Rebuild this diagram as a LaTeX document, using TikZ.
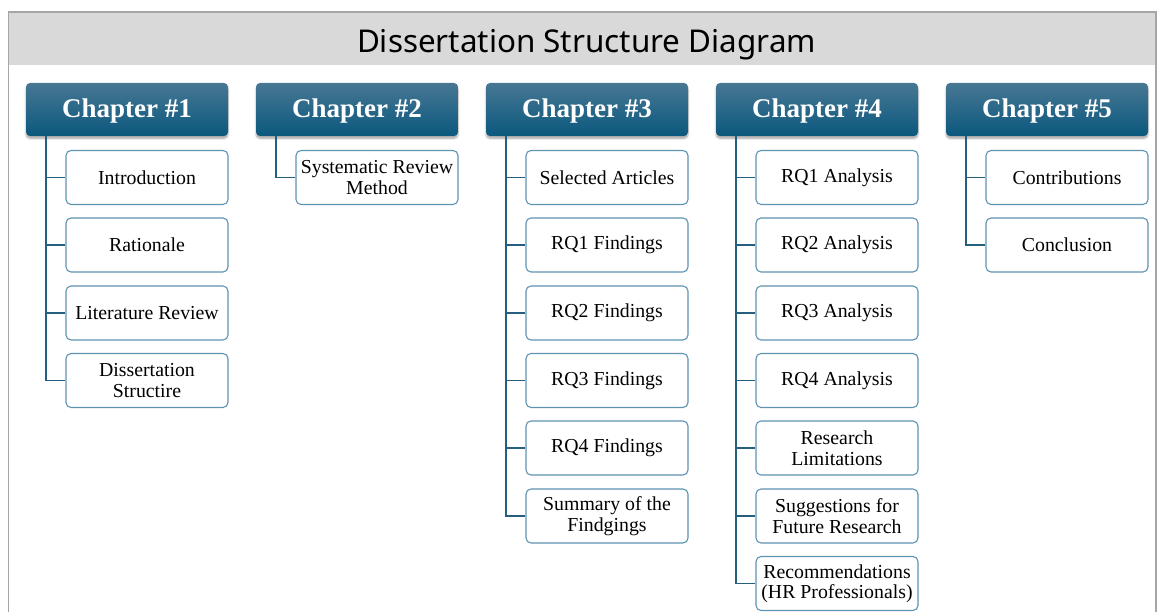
\documentclass[tikz,border=0pt]{standalone}
\usepackage{fontspec}
\setmainfont{Liberation Serif}
\newfontfamily\titlefont{Noto Sans}
\usetikzlibrary{calc,shadows.blur}

\definecolor{bandgray}{HTML}{D9D9D9}
\definecolor{framegray}{HTML}{A6A6A6}
\definecolor{chaptop}{HTML}{477793}
\definecolor{chapbot}{HTML}{0B587E}
\definecolor{trunk}{HTML}{245F80}
\definecolor{itemline}{HTML}{5E93B2}

\tikzset{
  chap/.style={rectangle, rounded corners=4pt, minimum width=202pt,
    minimum height=53pt, top color=chaptop, bottom color=chapbot,
    text=white, font=\fontsize{27}{30}\selectfont\bfseries,
    text height=18pt, text depth=1pt,
    blur shadow={shadow blur steps=6, shadow xshift=0pt, shadow yshift=-2.5pt,
      shadow opacity=35}},
  item/.style={rectangle, draw=itemline, line width=1.1pt, rounded corners=5pt,
    minimum width=162pt, minimum height=54pt, fill=white, align=center,
    inner sep=1pt, font=\fontsize{19.8}{20.5}\selectfont},
  conn/.style={draw=trunk, line width=1.8pt},
}

\begin{document}
\begin{tikzpicture}[x=1pt, y=-1pt]
\useasboundingbox (0,0) rectangle (1157,612);

% heading band and outer frame
\fill[bandgray] (8.5,12) rectangle (1156,65);
\draw[framegray, line width=1.5pt] (8.5,615) -- (8.5,12) -- (1156,12) -- (1156,615);
\node[font=\titlefont\fontsize{31.4}{34}\selectfont, anchor=base] (title) at (586.5,53) {Dissertation Structure Diagram};

% chapter headers
\node[chap] (c1) at (127,109.5) {Chapter \#1};
\node[chap] (c2) at (357,109.5) {Chapter \#2};
\node[chap] (c3) at (587,109.5) {Chapter \#3};
\node[chap] (c4) at (817,109.5) {Chapter \#4};
\node[chap] (c5) at (1047,109.5) {Chapter \#5};

% chapter 1
\node[item] (c1a) at (147,177.5) {Introduction};
\node[item] (c1b) at (147,245) {Rationale};
\node[item] (c1c) at (147,313) {Literature Review};
\node[item] (c1d) at (147,380.5) {Dissertation\\Structire};

% chapter 2
\node[item] (c2a) at (377,177.5) {Systematic Review\\Method};

% chapter 3
\node[item] (c3a) at (607,177.5) {Selected Articles};
\node[item] (c3b) at (607,245) {RQ1 Findings};
\node[item] (c3c) at (607,313) {RQ2 Findings};
\node[item] (c3d) at (607,380.5) {RQ3 Findings};
\node[item] (c3e) at (607,448) {RQ4 Findings};
\node[item] (c3f) at (607,516) {Summary of the\\Findgings};

% chapter 4
\node[item] (c4a) at (837,177.5) {RQ1 Analysis};
\node[item] (c4b) at (837,245) {RQ2 Analysis};
\node[item] (c4c) at (837,313) {RQ3 Analysis};
\node[item] (c4d) at (837,380.5) {RQ4 Analysis};
\node[item] (c4e) at (837,448) {Research\\Limitations};
\node[item] (c4f) at (837,516) {Suggestions for\\Future Research};
\node[item] (c4g) at (837,583.5) {Recommendations\\(HR Professionals)};

% chapter 5
\node[item] (c5a) at (1067,177.5) {Contributions};
\node[item] (c5b) at (1067,245) {Conclusion};

% tree connectors
\foreach \c/\kids in {c1/{c1a,c1b,c1c,c1d}, c2/{c2a},
    c3/{c3a,c3b,c3c,c3d,c3e,c3f}, c4/{c4a,c4b,c4c,c4d,c4e,c4f,c4g},
    c5/{c5a,c5b}} {
  \foreach \k in \kids {
    \draw[conn] ($(\c.south west)+(20,0)$) |- (\k.west);
  }
}
\end{tikzpicture}
\end{document}
